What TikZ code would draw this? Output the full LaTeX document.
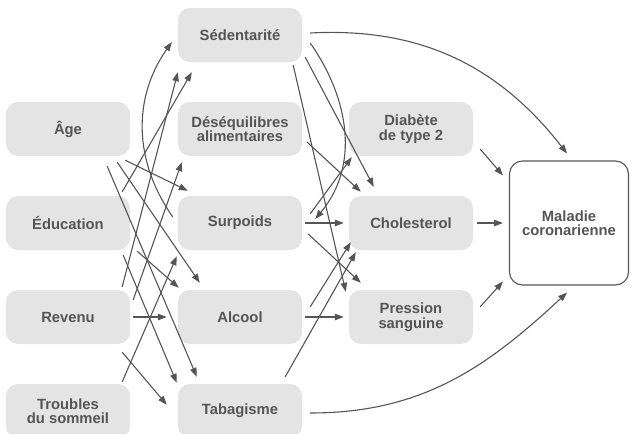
\documentclass[tikz,border=0pt]{standalone}
\usepackage{fontspec}
\setmainfont{Liberation Sans}
\usepackage{tikz}
\usetikzlibrary{arrows.meta,positioning,calc}
\definecolor{boxgray}{HTML}{E4E4E4}
\definecolor{textgray}{HTML}{555555}
\definecolor{linegray}{HTML}{555555}
\tikzstyle{block} = [fill=boxgray, rectangle, rounded corners=12pt, text=textgray,
font=\fontsize{14.8}{14.5}\selectfont\bfseries, align=center,
minimum height=54pt, minimum width=124pt, inner sep=2pt]
\tikzstyle{outcome} = [block, draw=linegray, fill=white, line width=1.1pt,
minimum width=119pt, minimum height=124pt, rounded corners=13pt]
\tikzstyle{link} = [->, draw=linegray, line width=1.1pt]

\begin{document}
\begin{tikzpicture}[auto, node distance=94pt, x=1pt, y=-1pt,
  >={Triangle[length=9pt,width=6.5pt]}]
	\useasboundingbox (0,0) rectangle (630,434);
	% middle column
	\node [block] (Sedentarite) at (240,35) {Sédentarité};
	\node [block, below of=Sedentarite] (Desequilibres) {Déséquilibres\\alimentaires};
	\node [block, below of=Desequilibres] (Surpoids) {Surpoids};
	\node [block, below of=Surpoids] (Alcool) {Alcool};
	\node [block, below of=Alcool] (Tabagisme) {Tabagisme};
	% left column
	\node [block, left of=Desequilibres, node distance=172pt] (Age) {Âge};
	\node [block, left of=Surpoids, node distance=172pt] (Education) {Éducation};
	\node [block, left of=Alcool, node distance=172pt] (Revenu) {Revenu};
	\node [block, left of=Tabagisme, node distance=172pt] (Sommeil) {Troubles\\du sommeil};
	% right column
	\node [block, right of=Desequilibres, node distance=171pt] (Diabete) {Diabète\\de type 2};
	\node [block, right of=Surpoids, node distance=171pt] (Cholesterol) {Cholesterol};
	\node [block, right of=Alcool, node distance=171pt] (Pression) {Pression\\sanguine};
	\node [outcome, right of=Cholesterol, node distance=158pt] (Maladie) {Maladie\\coronarienne};
	
	\draw [link] ([shift={(-5,4)}]Age.south east) -- ([shift={(10,-5)}]Surpoids.north west);
	\draw [link] ([shift={(-13,6)}]Age.south east) -- ([shift={(22,-7)}]Alcool.north west);
	\draw [link] ([shift={(-23,10)}]Age.south east) -- ([shift={(19,-7)}]Tabagisme.north west);
	\draw [link] ([shift={(-8,-4)}]Education.north east) -- ([shift={(14,10)}]Sedentarite.south west);
	\draw [link] ([shift={(7,1)}]Education.south east) -- ([shift={(1,-2)}]Alcool.north west);
	\draw [link] ([shift={(-7,5)}]Education.south east) -- ([shift={(-1,-1)}]Tabagisme.north west);
	\draw [link] ([shift={(-8,-3)}]Revenu.north east) -- ([shift={(0,10)}]Sedentarite.south west);
	\draw [link] ([shift={(3,10)}]Revenu.north east) -- ([shift={(4,6)}]Desequilibres.south west);
	\draw [link, shorten <=3pt, shorten >=11pt] (Revenu) -- (Alcool);
	\draw [link] ([shift={(-8,8)}]Revenu.south east) -- ([shift={(-11,21)}]Tabagisme.north west);
	\draw [link] ([shift={(-8,-2)}]Sommeil.north east) -- ([shift={(-1,6)}]Surpoids.south west);
	\draw [link] ([shift={(-5,-6)}]Surpoids.west) to[out=125, in=-125] ([shift={(-6,7)}]Sedentarite.west);
	
	\draw [link] ([shift={(8,-2)}]Sedentarite.east) to[out=3, in=128] ([shift={(-2,-7)}]Maladie.north);
	\draw [link] ([shift={(8,8)}]Sedentarite.east) to[out=-55, in=50] ([shift={(13,-4)}]Surpoids.east);
	\draw [link] ([shift={(3,-5)}]Sedentarite.south east) -- ([shift={(25,-9)}]Cholesterol.north west);
	\draw [link] ([shift={(-9,3)}]Sedentarite.south east) -- ([shift={(-3,2)}]Pression.north west);
	\draw [link] ([shift={(5,-14)}]Desequilibres.south east) -- ([shift={(12,-4)}]Cholesterol.north west);
	\draw [link] ([shift={(8,18)}]Surpoids.north east) -- ([shift={(3,1)}]Diabete.south west);
	\draw [link, shorten <=3pt, shorten >=5pt] (Surpoids) -- (Cholesterol);
	\draw [link] ([shift={(6,11)}]Surpoids.east) -- ([shift={(12,-7)}]Pression.north west);
	\draw [link] ([shift={(8,17)}]Alcool.north east) -- ([shift={(2,-8)}]Cholesterol.south west);
	\draw [link, shorten <=3pt, shorten >=5pt] (Alcool) -- (Pression);
	\draw [link] ([shift={(-17,-7)}]Tabagisme.north east) -- ([shift={(7,2)}]Cholesterol.south west);
	\draw [link] ([shift={(8,2)}]Tabagisme.east) to[out=0, in=-137] ([shift={(-2,7)}]Maladie.south);
	
	\draw [link] ([shift={(7,-7)}]Diabete.south east) -- ([shift={(-6,15)}]Maladie.north west);
	\draw [link, shorten <=4pt, shorten >=6pt] (Cholesterol) -- (Maladie);
	\draw [link] ([shift={(7,17)}]Pression.north east) -- ([shift={(-6,-4)}]Maladie.south west);
	
	\end{tikzpicture}
\end{document}
